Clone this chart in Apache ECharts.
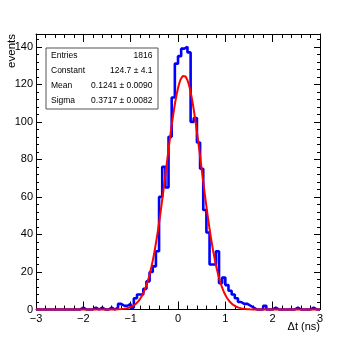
<!DOCTYPE html>
<html>
<head>
<meta charset="UTF-8">
<title>Δt</title>
<script src="https://cdn.jsdelivr.net/npm/echarts@6/dist/echarts.min.js"></script>
<style>body{margin:0;background:#fff}</style>
</head>
<body>
<div id="main" style="width:356px;height:344px"></div>
<script>
// histogram: 90 bins from -3 to 3 ns
var tMin = -3, tMax = 3;
var counts = [
  0, 0, 0, 0, 0, 0, 0, 0, 0, 0,
  0, 0, 0, 0, 1, 0, 0, 0, 1, 0,
  1, 0, 0, 1, 0, 1, 3, 2, 2, 3,
  1, 6, 8, 8, 11, 15, 20, 23, 31, 60,
  76, 65, 92, 113, 131, 135, 139, 140, 137, 100,
  102, 89, 75, 53, 41, 24, 24, 31, 14, 17,
  13, 10, 8, 6, 4, 3, 3, 2, 1, 0,
  0, 0, 2, 0, 0, 1, 0, 0, 0, 0,
  0, 0, 1, 0, 0, 0, 0, 1, 0, 0
];
// gaus fit parameters (stats box)
var fitConstant = 124.7, fitMean = 0.1241, fitSigma = 0.3717;
var statsLabels = ['Entries', 'Constant', 'Mean', 'Sigma'];
var statsValues = ['1816', '124.7 \u00b1 4.1', '0.1241 \u00b1 0.0090', '0.3717 \u00b1 0.0082'];
var yMax = 146.8;

var binW = (tMax - tMin) / counts.length;
var histData = counts.map(function (c, i) { return [tMin + i * binW, c]; });
histData.push([tMax, counts[counts.length - 1]]);

// fitted function drawn over the full range
var fitData = [];
for (var i = 0; i <= 300; i++) {
  var t = tMin + i * (tMax - tMin) / 300;
  var z = (t - fitMean) / fitSigma;
  fitData.push([t, fitConstant * Math.exp(-0.5 * z * z)]);
}

var font = 'Liberation Sans, Arial, sans-serif';
var minus = function (v) { return String(v).replace('-', '\u2212'); };

function axisCommon(extra) {
  var a = {
    type: 'value',
    axisLine: { show: true, onZero: false, lineStyle: { color: '#000', width: 1 } },
    axisTick: { show: true, inside: true, length: 8, lineStyle: { color: '#000' } },
    minorTick: { show: true, splitNumber: 5, length: 4, lineStyle: { color: '#000' } },
    splitLine: { show: false },
    axisLabel: { show: false }
  };
  for (var k in extra) a[k] = extra[k];
  return a;
}

var chart = echarts.init(document.getElementById('main'));
chart.setOption({
  backgroundColor: '#fff',
  animation: false,
  grid: { left: 36, right: 36, top: 34, bottom: 34.5 },
  xAxis: [
    axisCommon({
      min: tMin, max: tMax, interval: 1, position: 'bottom',
      axisLabel: { show: true, margin: 4, color: '#000', fontSize: 11, fontFamily: font, formatter: minus }
    }),
    axisCommon({ min: tMin, max: tMax, interval: 1, position: 'top' })
  ],
  yAxis: [
    axisCommon({
      min: 0, max: yMax, interval: 20, position: 'left',
      axisTick: { show: true, inside: true, length: 6, lineStyle: { color: '#000' } },
      minorTick: { show: true, splitNumber: 5, length: 3, lineStyle: { color: '#000' } },
      axisLabel: { show: true, margin: 3, color: '#000', fontSize: 11, fontFamily: font, showMaxLabel: false }
    }),
    axisCommon({
      min: 0, max: yMax, interval: 20, position: 'right',
      axisTick: { show: true, inside: true, length: 6, lineStyle: { color: '#000' } },
      minorTick: { show: true, splitNumber: 5, length: 3, lineStyle: { color: '#000' } }
    })
  ],
  series: [
    {
      type: 'line', data: histData, step: 'end', symbol: 'none', clip: false,
      lineStyle: { color: '#0000ff', width: 2.6 }, z: 3
    },
    {
      type: 'line', data: fitData, symbol: 'none', clip: false,
      lineStyle: { color: '#ff0000', width: 2 }, z: 4
    }
  ],
  graphic: [
    {
      type: 'rect', z: 10, shape: { x: 46, y: 48, width: 112, height: 61 },
      style: { fill: '#fff', stroke: '#555', lineWidth: 1 }
    },
    {
      type: 'text', z: 11, rotation: Math.PI / 2, x: 12, y: 34,
      style: { text: 'events', fontSize: 11.5, fontFamily: font, fill: '#000', align: 'right', verticalAlign: 'middle' }
    },
    {
      type: 'text', z: 11, x: 320, y: 327,
      style: { text: '\u0394t (ns)', fontSize: 11, fontFamily: font, fill: '#000', align: 'right', verticalAlign: 'middle' }
    }
  ].concat(statsLabels.map(function (s, i) {
    return {
      type: 'text', z: 11, x: 51, y: 56 + i * 15,
      style: { text: s, fontSize: 8.5, fontFamily: font, fill: '#000', align: 'left', verticalAlign: 'middle' }
    };
  })).concat(statsValues.map(function (s, i) {
    return {
      type: 'text', z: 11, x: 152.5, y: 56 + i * 15,
      style: { text: s, fontSize: 8.5, fontFamily: font, fill: '#000', align: 'right', verticalAlign: 'middle' }
    };
  }))
});
</script>
</body>
</html>
